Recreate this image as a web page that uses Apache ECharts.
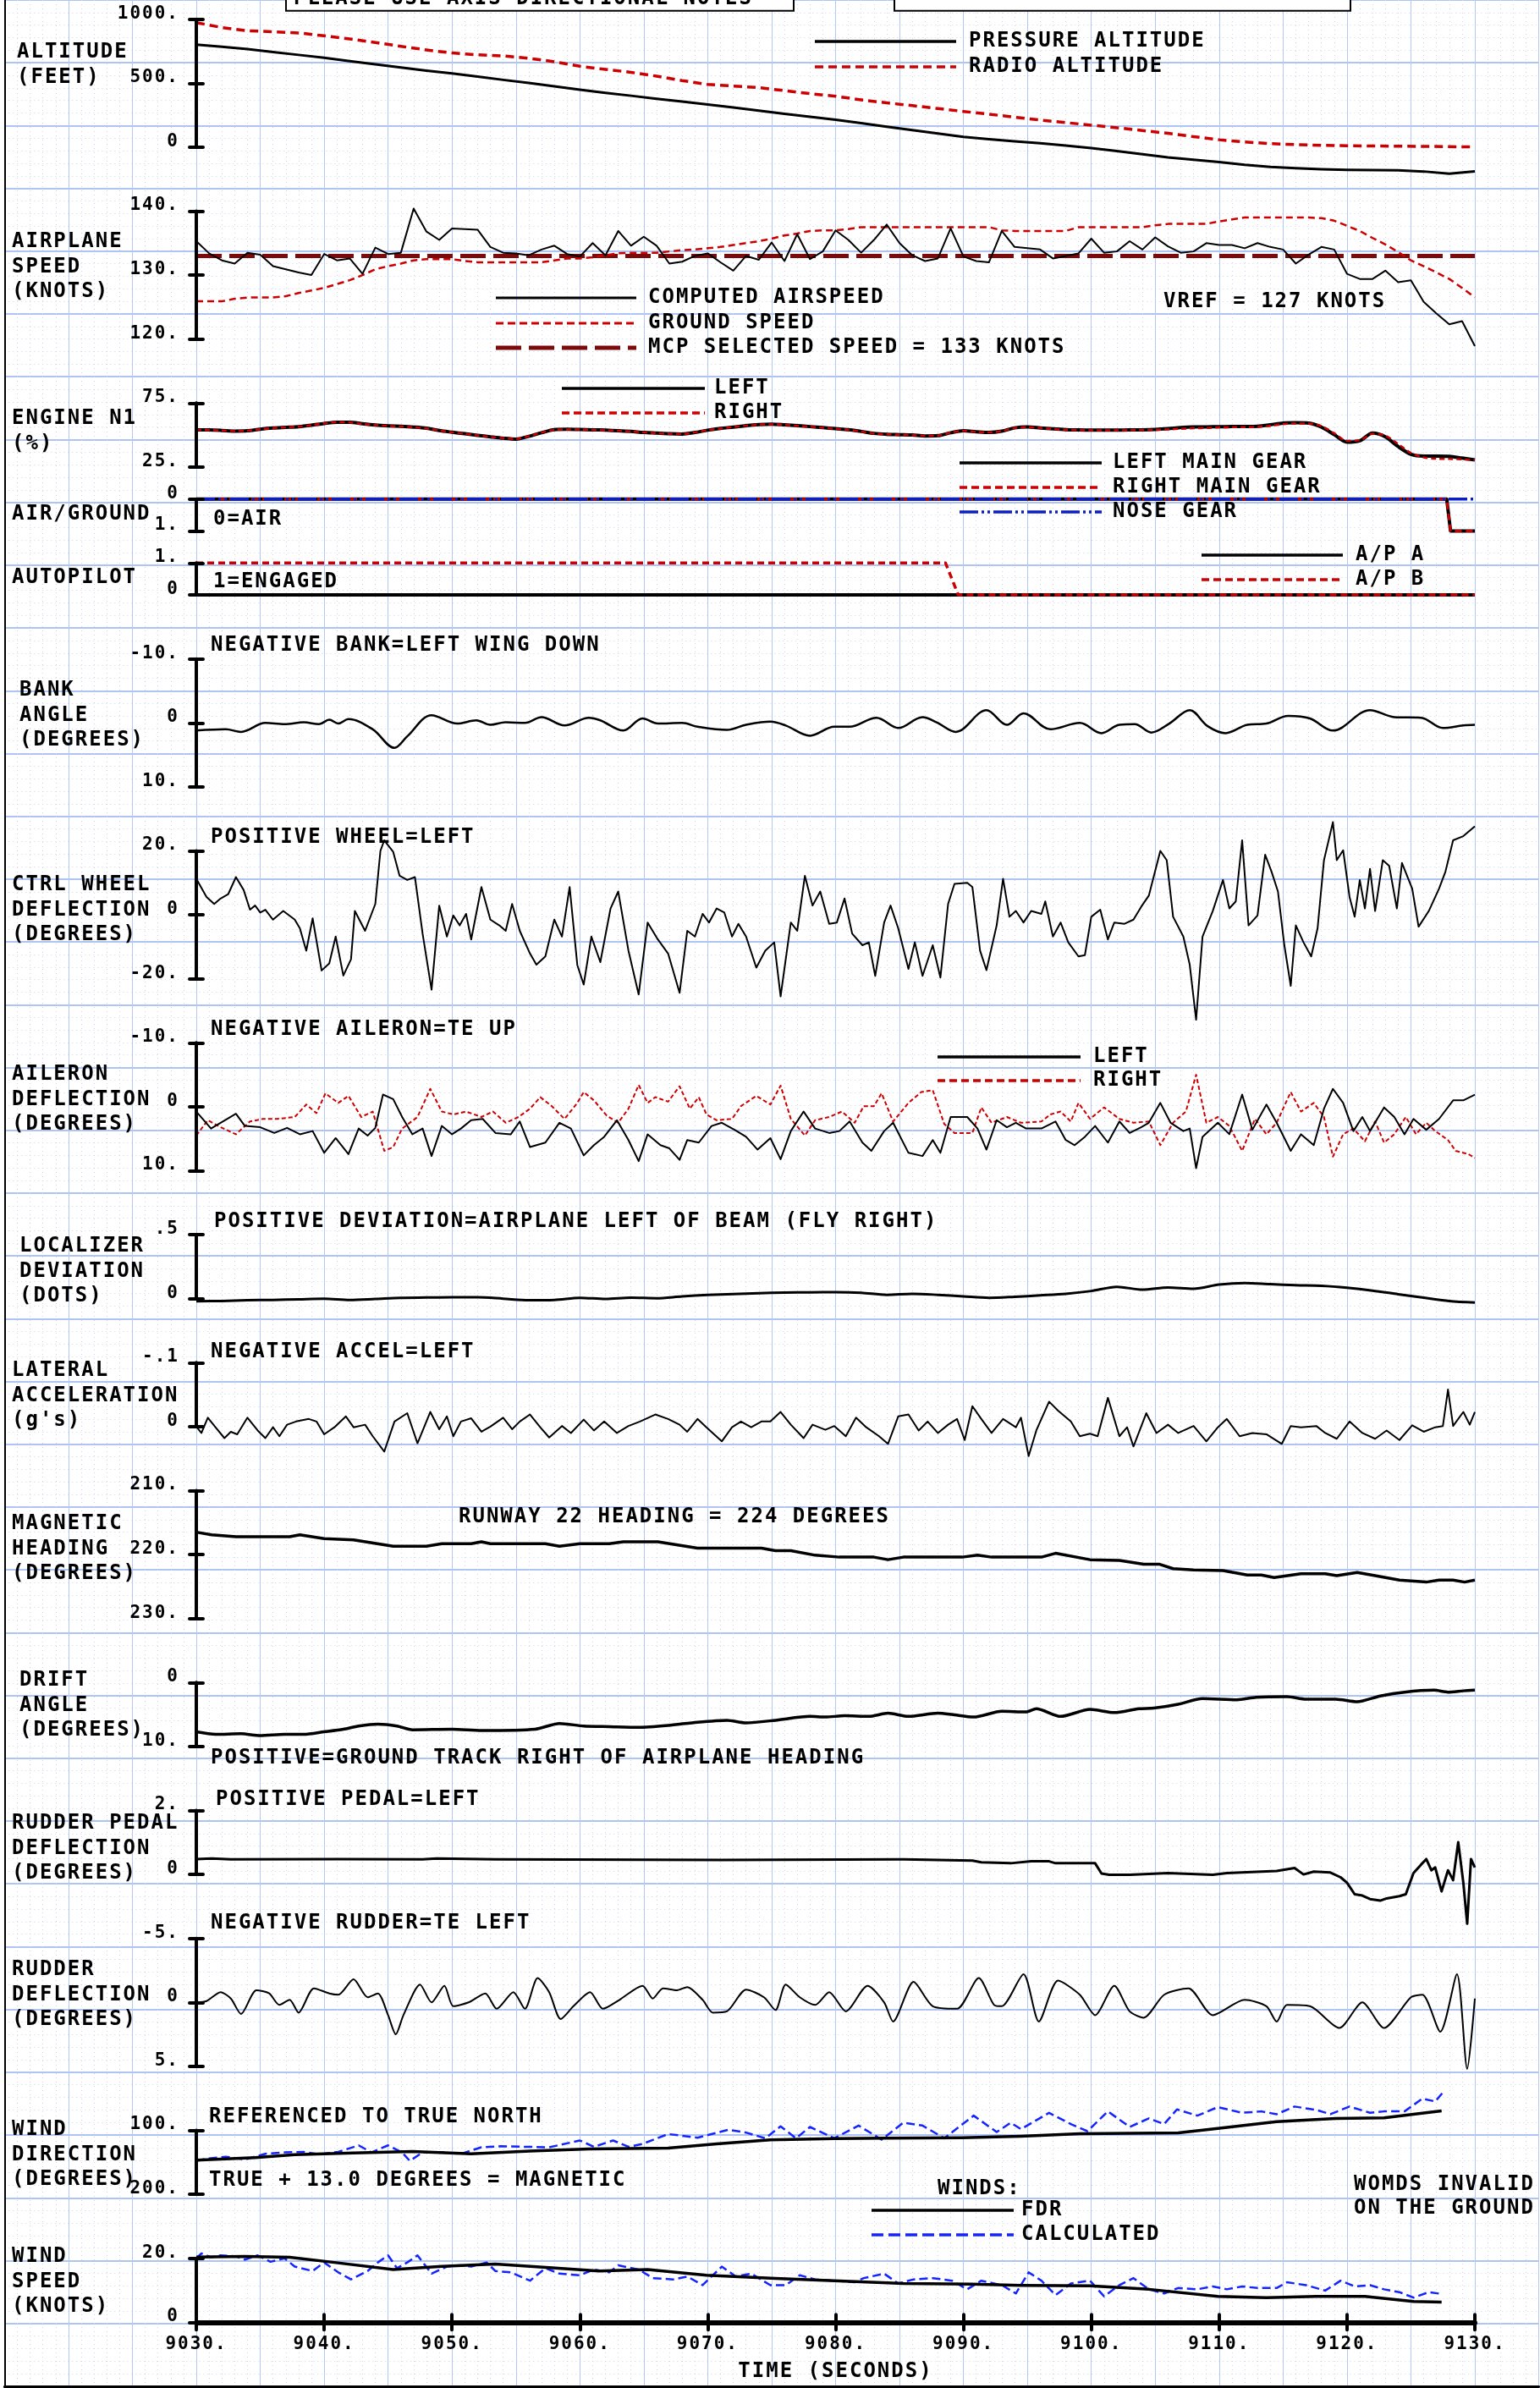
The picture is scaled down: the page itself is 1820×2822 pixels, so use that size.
<!DOCTYPE html>
<html>
<head>
<meta charset="utf-8">
<title>Flight data - approach and touchdown</title>
<script src="https://cdn.jsdelivr.net/npm/echarts@6/dist/echarts.min.js"></script>
<style>
  html, body { margin: 0; padding: 0; background: #fff; }
  #chart { width: 1820px; height: 2822px; }
</style>
</head>
<body>
<div id="chart"></div>
<script>
// ---------------------------------------------------------------
// Time base (seconds)
// ---------------------------------------------------------------
const T_START = 9030, T_END = 9130;
const seq = (t0, dt, n) => Array.from({ length: n }, (_, i) => t0 + i * dt);
const T1 = seq(T_START, 1, 101);   // 1-second samples
const T2 = seq(T_START, 2, 51);    // 2-second samples

// ---------------------------------------------------------------
// Recorded parameters
// ---------------------------------------------------------------
// Altitude (feet), every 2 s
const pressureAlt = [802,785,766,744,721,698,672,648,622,598,577,552,526,502,476,449,425,402,378,356,334,310,285,260,237,214,188,160,134,107,81,62,45,30,12,-7,-30,-55,-80,-98,-117,-138,-154,-165,-172,-178,-180,-181,-190,-207,-189];
const radioAlt = [973,935,910,902,893,870,846,818,788,760,736,722,713,695,668,632,608,585,555,520,490,478,465,442,418,398,370,346,325,302,279,258,234,212,192,172,152,130,108,82,58,40,28,20,14,11,9,8,6,4,2];

// Airplane speed (knots), every 1 s
const computedAirspeed = [
  135.3,133.4,132.3,131.8,133.5,133.2,131.4,130.9,130.4,130.0,
  133.3,132.3,132.6,130.2,134.3,133.3,133.5,140.4,136.8,135.5,
  137.3,137.2,137.1,134.4,133.5,133.4,133.1,134.0,134.6,133.3,
  132.9,135.0,133.1,136.9,134.6,136.0,134.6,131.8,132.1,133.0,
  133.4,132.0,130.7,133.0,132.4,135.1,132.2,136.4,132.5,133.7,
  137.0,135.5,133.5,135.5,137.9,135.0,133.1,132.2,132.6,137.3,
  132.9,132.2,132.0,136.9,134.4,134.2,134.0,132.6,133.0,133.4,
  135.7,133.5,133.7,135.3,134.0,135.9,134.5,133.5,133.7,135.0,
  134.7,134.7,134.2,135.0,134.4,134.0,131.8,133.2,134.4,134.0,
  130.2,129.4,129.4,130.7,128.9,129.2,125.8,124.0,122.3,122.8,
  118.9];
const groundSpeed = [
  125.9,125.9,125.9,126.3,126.5,126.5,126.5,126.7,127.2,127.6,
  128.0,128.6,129.2,130.0,130.9,131.4,131.8,132.3,132.5,132.5,
  132.5,132.2,132.0,132.0,132.0,132.0,132.0,132.0,132.3,132.6,
  132.6,132.8,133.1,133.4,133.5,133.5,133.5,133.7,133.9,134.0,
  134.2,134.4,134.7,135.0,135.3,135.7,136.2,136.5,136.9,137.0,
  137.0,137.2,137.5,137.5,137.5,137.5,137.5,137.5,137.5,137.5,
  137.5,137.5,137.5,137.0,136.9,136.9,136.9,136.9,136.9,137.5,
  137.5,137.5,137.5,137.5,137.5,137.8,138.0,138.0,138.0,138.0,
  138.4,138.7,139.0,139.0,139.0,139.0,139.0,139.0,138.9,138.5,
  137.7,136.9,135.8,134.8,133.6,132.3,131.4,130.4,129.4,128.0,
  126.5];
const mcpSpeedT = [T_START, T_END];
const mcpSpeed = [133, 133];

// Engine N1 (%), every 1 s
const n1Left = [
  54.1,54.0,53.6,53.1,53.3,54.6,55.5,56.0,56.5,57.6,
  59.0,60.0,60.0,58.8,57.8,57.2,56.8,56.2,55.3,53.5,
  52.2,51.0,49.8,48.6,47.5,46.8,49.0,51.8,54.2,54.5,
  54.3,54.1,53.8,53.4,52.8,52.0,51.5,51.0,50.8,52.0,
  53.8,55.2,56.2,57.4,58.2,58.5,58.0,57.3,56.6,55.8,
  55.0,54.2,52.8,51.3,50.6,50.3,50.0,49.3,49.5,51.8,
  53.4,52.6,52.0,53.0,55.6,56.3,55.6,54.8,54.2,54.0,
  53.9,53.9,53.9,54.0,54.1,54.4,55.0,55.8,56.3,56.4,
  56.5,56.6,56.7,56.9,58.0,59.4,59.6,59.3,56.2,50.3,
  44.4,45.5,51.5,48.6,41.0,35.0,33.6,33.6,33.4,32.0,
  30.5];
const n1Right = [
  54.0,53.9,53.5,53.1,53.4,54.5,55.4,56.0,56.6,57.7,
  59.1,60.1,59.9,58.7,57.8,57.1,56.7,56.1,55.2,53.6,
  52.1,51.0,49.7,48.5,47.6,46.9,49.1,51.9,54.1,54.4,
  54.3,54.0,53.7,53.3,52.8,52.1,51.4,51.0,50.9,52.1,
  53.9,55.1,56.3,57.3,58.1,58.4,58.0,57.2,56.5,55.7,
  54.9,54.1,52.7,51.2,50.5,50.2,49.9,49.4,49.6,51.9,
  53.3,52.5,52.1,53.1,55.5,56.2,55.5,54.7,54.1,53.9,
  53.7,53.7,53.7,53.8,53.9,54.1,54.4,54.9,55.3,55.5,
  56.0,56.1,56.2,56.4,57.2,58.5,59.0,59.0,57.0,51.5,
  45.5,46.0,51.0,49.5,43.0,36.0,32.5,31.5,31.3,31.0,
  30.5];

// Air/ground switches (0 = air, 1 = ground)
const gearT = [T_START, 9127.8, 9128.1, T_END];
const leftMainGear = [0, 0, 1, 1];
const rightMainGear = [0, 0, 1, 1];
const noseGearT = [T_START, T_END];
const noseGear = [0, 0];

// Autopilot engagement (1 = engaged)
const apT = [T_START, 9088.6, 9089.6, T_END];
const apA = [0, 0, 0, 0];
const apB = [1, 1, 0, 0];

// Irregularly sampled parameters: seconds after T_START, value
const bankSec = [0,2.3,3.5,5.4,6.9,8.4,9.6,10.4,11.1,11.9,13.8,15.5,16.5,18.4,20.4,21.9,23.0,24.2,25.7,27.0,28.8,30.7,31.6,33.4,34.9,36.1,38.0,39.2,41.5,43.0,44.9,46.1,48.0,49.9,51.1,53.2,54.9,56.8,57.9,59.4,61.8,63.4,64.7,66.8,69.1,70.8,72.2,73.4,74.7,76.1,77.7,79.1,80.5,82.2,83.7,85.4,87.1,88.9,91.8,93.7,95.8,97.5,99.1,100];
const bankAngle = [1.2,1.0,1.4,0.0,0.2,-0.1,0.2,-0.5,0.1,-0.6,1.0,3.9,2.1,-1.2,0.1,-0.4,0.3,-0.1,0.0,-0.9,0.4,-0.8,-0.4,1.2,-0.7,0.1,0.0,0.6,1.1,0.3,-0.2,0.4,2.0,0.6,0.6,-0.8,0.8,-0.9,-0.1,1.4,-2.0,0.3,-1.5,1.0,0.0,1.6,0.3,0.2,1.5,0.1,-2.0,0.5,1.6,0.3,0.1,-1.1,-0.7,1.2,-2.0,-0.9,-0.8,0.8,0.4,0.3];

const wheelSec = [
  0,0.8,1.4,1.9,2.5,3.1,3.7,4.2,4.6,5.0,
  5.4,6.0,6.8,7.7,8.1,8.6,9.1,9.8,10.4,10.9,
  11.5,12.1,12.4,13.2,14.0,14.4,14.7,15.4,15.9,16.5,
  17.1,17.7,18.4,19.0,19.6,20.1,20.6,21.1,21.5,22.3,
  23.0,23.7,24.2,24.7,25.3,26.1,26.6,27.3,28.0,28.6,
  29.2,29.8,30.3,30.9,31.6,32.4,33.0,33.8,34.6,35.3,
  36.1,36.9,37.8,38.4,39.0,39.6,40.1,40.7,41.3,41.9,
  42.4,43.0,43.8,44.5,45.2,45.7,46.5,47.0,47.6,48.2,
  48.8,49.5,50.1,50.7,51.3,52.1,52.6,53.1,53.8,54.3,
  54.9,55.7,56.2,56.8,57.6,58.2,58.8,59.3,60.3,60.7,
  61.3,61.8,62.6,63.1,63.6,64.1,64.7,65.3,66.1,66.4,
  67.0,67.6,68.2,69.0,69.5,70.0,70.7,71.3,71.8,72.6,
  73.3,73.9,74.5,75.4,75.9,76.4,77.2,77.7,78.2,78.7,
  79.5,80.3,80.8,81.3,81.8,82.3,83.0,83.6,84.1,84.6,
  85.1,85.6,86.0,86.6,87.2,87.7,88.2,88.9,89.2,89.7,
  90.2,90.6,91.0,91.4,91.8,92.2,92.8,93.3,93.9,94.3,
  95.1,95.6,96.4,97.2,97.7,98.3,99.1,100];
const ctrlWheel = [
  11.3,5.6,3.4,5.1,6.5,11.8,7.8,1.6,2.9,0.7,
  1.6,-1.5,1.2,-1.5,-4.2,-11.2,-1.1,-17.4,-15.2,-6.8,
  -19.0,-13.9,1.2,-5.0,3.4,20.0,23.3,19.7,12.2,10.9,
  11.8,-5.9,-23.4,2.9,-6.8,-0.2,-3.3,0.3,-7.7,8.7,
  -1.5,-3.3,-5.0,3.4,-5.0,-12.1,-15.6,-13.0,-1.5,-6.8,
  8.7,-15.7,-21.8,-6.8,-14.8,2.0,7.3,-11.2,-24.9,-2.4,
  -7.7,-12.1,-24.4,-5.0,-6.8,0.3,-2.4,2.0,0.7,-6.8,
  -2.8,-6.8,-16.5,-11.2,-8.6,-25.5,-2.4,-5.0,12.2,2.9,
  7.3,-2.8,-2.4,5.1,-5.9,-9.5,-8.6,-19.1,-2.4,2.9,
  -4.2,-16.9,-8.6,-19.1,-9.5,-19.6,3.4,9.7,10.0,8.7,
  -11.2,-17.3,-3.3,11.3,-0.6,1.2,-2.4,1.2,0.3,4.2,
  -6.8,-2.4,-8.6,-13.0,-12.6,-0.6,1.6,-7.7,-2.4,-2.8,
  -1.5,2.5,6.0,20.0,17.1,-0.6,-6.8,-15.6,-32.8,-6.8,
  1.2,10.9,2.0,4.2,23.3,-3.3,-0.2,18.8,13.5,7.3,
  -9.5,-22.2,-3.3,-8.6,-13.0,-4.2,17.1,29.0,17.1,20.2,
  5.6,-0.6,10.9,2.0,14.4,1.2,17.1,15.3,2.0,16.2,
  8.2,-3.7,1.2,8.2,13.5,23.3,24.6,27.7];

const aileronLeftSec = [0,1.15,3.1,3.8,5.0,6.1,7.1,8.1,9.1,10.0,10.9,11.9,12.7,13.4,14.0,14.6,15.4,16.1,16.9,17.7,18.4,19.2,20.0,20.7,21.5,22.4,23.4,24.6,25.3,26.1,27.3,28.4,29.3,30.3,31.1,31.9,32.9,33.8,34.6,35.3,36.3,37.0,37.8,38.4,39.3,40.3,41.1,42.1,43.0,43.9,44.9,45.7,46.5,47.5,48.4,49.5,50.3,51.1,52.1,52.8,53.8,54.5,55.7,56.8,57.6,58.2,59.0,60.3,61.1,61.8,62.6,63.4,64.1,64.9,66.1,67.2,68.0,68.7,69.5,70.3,71.3,72.2,73.0,73.9,74.5,75.4,76.2,77.2,77.7,78.2,78.7,79.9,80.8,81.8,82.6,83.7,84.5,85.6,86.4,87.4,88.2,88.9,89.7,90.5,91.2,91.8,92.9,93.7,94.5,95.2,96.2,97.2,98.3,99.1,100];
const aileronLeft = [0.75,3.4,1.1,3.0,3.2,4.1,3.3,4.3,3.8,7.2,4.9,7.4,3.4,4.5,3.3,-1.9,-1.2,1.6,4.3,3.4,7.7,3.0,4.3,3.4,2.1,1.9,4.1,4.3,2.3,6.3,5.6,2.5,3.4,7.6,6.0,4.7,2.1,5.2,8.5,4.3,6.0,6.5,8.3,5.2,5.6,3.0,2.5,3.6,4.7,6.7,4.9,8.2,3.8,0.75,3.4,4.1,3.8,2.3,5.6,6.9,3.8,2.5,7.2,7.7,5.2,7.2,1.6,1.6,3.4,6.7,2.1,3.2,2.5,3.4,3.4,2.3,5.2,6.0,4.7,3.0,5.6,2.3,4.1,3.2,2.5,-0.6,2.5,3.8,3.4,9.6,4.7,2.5,4.3,-1.9,3.6,-0.35,2.5,6.9,4.3,6.0,0.3,-2.8,-0.6,3.8,1.6,3.8,0.1,1.6,4.3,1.9,3.6,1.9,-1.0,-1.0,-1.9];
const aileronRightSec = [0,0.9,1.9,3.1,4.2,5.2,6.3,7.7,8.6,9.4,10.1,11.1,11.9,12.9,13.8,14.7,15.4,16.1,17.3,18.3,19.2,20.1,21.1,22.3,23.2,24.2,25.2,26.1,26.9,27.8,28.8,29.8,30.3,31.1,32.1,33.0,33.8,34.6,35.3,35.9,36.9,37.8,38.6,39.3,39.9,40.7,41.9,42.6,43.8,44.9,45.7,46.5,47.6,48.4,49.5,50.5,51.5,52.2,53.0,53.6,54.5,55.7,56.7,57.6,58.5,59.3,60.7,61.4,62.2,63.4,64.5,66.1,66.8,67.6,68.4,69.0,69.9,71.0,72.2,73.3,74.5,75.4,76.4,77.4,78.2,79.0,79.9,80.8,81.8,82.8,83.7,84.5,85.6,86.4,87.4,88.2,88.9,89.7,90.5,91.4,92.2,92.9,93.7,94.6,95.4,96.2,96.9,97.9,98.5,99.5,100];
const aileronRight = [4.5,2.1,3.2,4.3,2.3,1.9,1.9,1.6,-0.35,1.0,-2.1,-0.6,-1.7,1.6,0.75,6.9,6.3,3.4,1.6,-2.8,0.75,1.2,0.75,1.6,0.75,2.5,1.6,0.3,-1.5,-0.1,1.9,-0.6,-2.3,-1.0,1.4,2.5,0.3,-3.4,-0.6,-1.5,-0.8,-3.2,0.3,-1.5,1.2,2.1,1.9,-0.1,-1.7,-0.35,-3.3,1.9,4.5,2.1,1.6,0.75,2.5,-0.1,-0.1,-2.1,2.3,-0.6,-2.3,-2.6,2.7,4.1,4.1,0.1,2.5,1.6,2.5,2.3,1.2,0.75,2.3,-0.6,1.9,0.1,1.9,2.5,2.3,6.0,2.5,0.75,-5.0,2.5,1.6,3.0,6.9,1.9,4.3,2.5,-2.3,0.75,-0.6,1.6,7.8,4.3,3.4,5.4,2.3,5.6,4.3,1.6,4.3,2.5,3.8,5.2,6.9,7.4,8.0];

// Localizer deviation (dots), every 2 s
const localizer = [-0.02,-0.018,-0.012,-0.01,-0.005,0.0,-0.01,-0.002,0.007,0.009,0.011,0.011,0.0,-0.012,-0.01,0.007,-0.002,0.008,0.003,0.018,0.029,0.036,0.043,0.047,0.05,0.051,0.046,0.03,0.038,0.03,0.018,0.007,0.015,0.026,0.038,0.06,0.093,0.07,0.088,0.078,0.11,0.122,0.113,0.105,0.1,0.085,0.063,0.035,0.008,-0.018,-0.03];

const latAccelSec = [
  0,0.4,0.9,1.5,2.2,2.7,3.2,4.0,4.8,5.4,
  6.0,6.5,7.1,7.8,8.8,9.4,10.0,10.8,11.7,12.3,
  13.2,13.8,14.7,15.5,16.5,17.3,18.3,19.0,19.6,20.1,
  20.7,21.5,22.3,23.0,24.0,24.7,25.3,26.1,26.9,27.6,
  28.6,29.3,30.3,31.1,31.9,32.9,33.8,34.7,35.9,36.9,
  37.8,38.4,39.2,39.9,41.1,41.9,42.6,43.4,44.2,44.9,
  45.7,46.5,47.5,48.2,49.2,49.9,50.8,51.6,52.4,53.4,
  54.1,54.9,55.7,56.5,57.2,58.0,58.8,59.5,60.1,60.7,
  61.4,62.2,63.1,64.1,64.5,65.1,65.7,66.7,67.4,68.4,
  69.1,69.9,70.5,71.3,72.2,72.8,73.3,74.3,75.1,76.0,
  76.8,78.0,79.0,79.9,80.6,81.6,82.6,83.7,84.9,85.6,
  86.4,87.6,88.3,89.2,90.2,91.2,92.2,93.1,94.1,95.1,
  96.0,96.9,97.5,97.9,98.3,99.1,99.6,100];
const latAccel = [
  0,0.010,-0.014,0.001,0.018,0.008,0.012,-0.014,0.006,0.018,
  0.001,0.015,-0.003,-0.008,-0.012,-0.008,0.012,0.001,-0.016,0.001,
  -0.003,0.015,0.039,-0.008,-0.021,0.026,-0.023,0.004,-0.016,0.015,
  -0.008,-0.013,0.008,0.0,-0.014,0.004,-0.008,-0.019,0.001,0.017,
  -0.001,0.010,-0.011,0.006,-0.008,0.010,-0.001,-0.008,-0.019,-0.012,
  -0.003,0.008,-0.012,0.001,0.023,0.001,-0.008,0.001,-0.008,-0.008,
  -0.023,-0.003,0.018,-0.003,0.005,-0.001,0.015,-0.014,0.001,0.015,
  0.027,-0.016,-0.019,0.006,-0.008,0.010,-0.003,-0.012,0.021,-0.032,
  -0.012,0.010,-0.012,0.001,-0.014,0.046,0.006,-0.039,-0.025,-0.008,
  0.015,0.011,0.015,-0.045,0.015,0.001,0.031,-0.021,0.010,-0.003,
  0.010,-0.001,0.023,0.001,-0.012,0.015,0.010,0.012,0.027,-0.001,
  0.001,-0.001,0.010,0.019,-0.008,0.010,0.019,0.006,0.021,-0.002,
  0.008,0.001,-0.001,-0.058,-0.001,-0.023,-0.003,-0.023];

const headingSec = [0,1.2,3.1,7.3,8.1,10.0,12.3,15.4,18.0,19.2,21.5,22.3,23.0,27.3,28.4,30.0,32.3,33.4,36.1,39.2,44.2,45.3,46.5,48.4,50.3,53.0,54.1,55.3,59.9,61.1,62.2,66.1,67.2,69.9,72.2,74.1,75.3,76.4,78.0,80.3,82.2,83.3,84.3,86.4,88.3,89.2,90.8,92.2,94.1,96.2,97.2,98.3,99.2,100];
const magHeading = [216.5,216.9,217.2,217.2,216.9,217.5,217.7,218.7,218.7,218.3,218.3,218.0,218.3,218.3,218.7,218.3,218.3,218.0,218.0,219.0,219.0,219.4,219.4,220.1,220.4,220.4,220.8,220.4,220.4,220.1,220.4,220.4,219.8,220.8,220.9,221.5,221.5,222.2,222.4,222.5,223.2,223.2,223.6,223.0,223.0,223.3,222.8,223.3,224.0,224.3,224.0,224.0,224.3,224.0];

const driftSec = [0,1.5,3.5,5.0,6.9,8.4,10.0,11.5,12.7,14.2,15.7,16.9,20.0,22.3,26.5,28.4,30.3,32.3,34.6,36.9,39.2,41.5,43.0,45.3,48.0,49.2,50.7,52.6,54.1,55.7,58.0,59.1,60.8,63.0,64.9,65.7,67.6,69.9,71.8,73.7,74.9,76.8,78.7,81.4,82.9,85.3,86.8,89.1,90.8,92.6,94.5,96.8,97.9,99.1,100];
const driftAngle = [7.7,8.1,8.0,8.3,8.1,8.1,7.7,7.3,6.8,6.5,6.8,7.4,7.3,7.5,7.3,6.4,6.8,6.9,7.0,6.7,6.2,5.9,6.3,5.9,5.3,5.4,5.2,5.3,4.8,5.3,4.8,5.0,5.4,4.5,4.6,4.1,5.3,4.2,4.7,4.1,4.0,3.4,2.5,2.7,2.3,2.2,2.6,2.6,3.0,2.1,1.5,1.2,1.5,1.3,1.2];

const pedalSec = [0,1.2,2.7,11.1,17.7,18.8,23.4,41.1,55.3,60.7,61.4,63.7,65.3,66.7,67.2,70.3,70.8,71.4,73.0,76.0,79.5,80.6,84.5,85.9,86.6,87.4,88.7,89.5,90.0,90.6,91.2,91.8,92.6,93.1,94.1,94.6,95.2,95.8,96.2,96.6,96.9,97.4,97.9,98.3,98.7,99.1,99.4,99.7,100];
const rudderPedal = [0.48,0.50,0.47,0.48,0.47,0.50,0.47,0.45,0.47,0.43,0.38,0.35,0.41,0.41,0.35,0.35,0.03,-0.01,-0.01,0.04,-0.01,0.04,0.11,0.20,0.0,0.09,0.06,-0.09,-0.26,-0.62,-0.66,-0.77,-0.82,-0.75,-0.68,-0.62,0.04,0.31,0.48,0.13,0.22,-0.53,0.13,-0.18,1.01,-0.26,-1.54,0.48,0.22];

const rudderSec = [
  0.0,0.8,1.9,2.7,3.5,4.7,5.7,6.5,7.3,8.0,
  9.2,10.4,11.1,12.3,13.4,14.2,15.0,15.6,16.2,17.5,
  18.4,19.4,20.1,21.3,22.6,23.5,24.8,25.7,26.7,27.6,
  28.5,29.5,30.8,31.8,33.1,34.9,35.7,36.5,37.6,38.4,
  39.6,40.4,41.5,43.0,44.4,45.3,46.1,47.2,48.4,49.5,
  50.8,52.5,53.8,54.5,56.1,57.6,59.5,61.2,62.4,63.0,
  64.7,65.9,67.4,69.1,70.3,71.8,73.0,74.1,75.7,77.6,
  79.5,82.0,83.7,84.5,85.3,87.1,89.4,91.2,92.9,95.0,
  95.9,97.3,98.6,99.4,100];
const rudder = [
  0.0,-0.1,-0.8,-0.3,0.9,-0.95,-0.7,0.2,-0.2,0.8,
  -1.1,-0.7,-0.6,-1.8,-0.4,-0.7,1.0,2.5,1.0,-1.4,
  0.0,-1.3,0.3,0.0,-0.7,0.5,-0.8,0.5,-1.9,-0.8,
  1.3,0.3,-0.8,0.5,-0.2,-1.3,-0.3,-1.1,-0.95,-1.2,
  -0.2,0.8,0.7,-1.0,-0.4,0.6,-1.4,-0.4,0.2,-0.8,
  0.7,-1.3,0.0,1.5,-1.6,0.3,0.5,-1.9,0.2,0.3,
  -2.2,1.5,-1.7,-0.6,1.0,-1.3,0.7,1.2,-0.6,-1.1,
  1.0,-0.2,0.3,1.5,0.2,0.3,2.0,0.0,2.0,-0.4,
  -0.6,2.3,-2.2,5.2,-0.3];

// Winds (FDR and calculated)
const windDirFdrSec = [0,4.6,7.7,12.3,16.9,21.5,26.1,30.7,36.9,40.7,44.9,49.9,53.8,59.9,64.5,69.1,76.8,79.9,84.5,89.1,92.9,95.2,97.4];
const windDirFdr = [146.5,142.5,138,135.4,133.2,136.7,132.3,129.2,127.9,121.2,115,112.8,112.4,111.5,109.3,105.3,104,96.9,86.3,81.4,80.5,74.8,69.5];
const windDirCalcSec = [
  0,0.8,2.3,3.8,5.4,6.9,8.4,9.6,11.1,12.7,
  13.7,15.0,16.1,16.7,17.7,19.2,20.7,22.3,23.8,25.7,
  27.6,30.0,31.1,32.6,33.8,34.9,36.9,39.2,41.6,43.0,
  44.5,45.7,46.9,48.0,49.9,51.8,53.6,55.3,56.8,58.5,
  60.8,62.6,63.7,64.5,66.7,68.4,69.7,71.3,73.0,74.5,
  75.7,76.7,78.3,79.9,81.8,83.3,84.5,85.9,87.6,88.7,
  90.2,91.8,92.9,94.5,95.9,96.9,97.5];
const windDirCalc = [
  147.8,144.2,141.2,145.6,136.7,134.5,133.6,137.6,133.6,123.5,
  134.5,123.5,134.5,147.8,134.5,134.5,136.7,126.5,124.8,125.7,
  126.5,115.9,125.7,115.9,125.7,121.2,105.8,111.5,99.1,103.5,
  112.4,93.8,112.4,94.7,112.4,92.5,114.6,88.1,92.5,112.4,
  77.0,102.7,88.1,98.2,72.6,90.3,101.3,70.4,94.7,81.4,
  90.3,67.3,77.0,63.7,72.6,70.4,74.8,62.8,68.1,74.8,
  62.8,72.6,70.4,70.4,50.4,54.9,40.7];
const windSpdFdrSec = [0,3.8,7.3,10.8,15.4,19.2,23.4,27.6,31.5,35.3,39.9,45.3,49.9,55.3,60.7,64.5,69.9,74.5,79.9,83.7,87.6,91.4,95.2,97.4];
const windSpdFdr = [20.4,20.6,20.3,18.7,16.5,17.5,18.2,17.1,16.0,16.5,14.7,13.7,13.0,12.1,11.9,11.5,11.4,10.3,8.1,7.7,8.1,8.1,6.5,6.3];
const windSpdCalcSec = [
  0,0.4,1.15,1.9,3.1,3.8,4.8,5.8,6.9,7.7,
  9.1,10.0,11.1,12.1,13.4,14.2,15.0,15.7,16.5,17.3,
  18.4,19.6,20.7,21.5,22.7,23.4,24.6,26.1,27.3,28.4,
  30.0,31.1,32.3,33.0,34.6,35.7,37.3,38.4,39.6,41.1,
  42.2,43.4,44.9,46.1,47.2,48.4,49.9,51.5,52.2,53.8,
  54.9,56.1,57.6,59.1,60.3,61.4,63.0,64.1,65.1,66.1,
  67.2,68.4,69.9,71.0,72.2,73.3,74.5,75.7,76.8,78.3,
  79.5,80.6,81.8,83.0,84.5,85.3,86.8,88.3,89.5,90.6,
  91.8,92.9,94.1,95.2,96.4,97.5];
const windSpdCalc = [
  20.0,21.5,20.3,20.9,20.6,19.6,20.9,18.9,20.0,17.4,
  16.0,18.7,15.6,13.4,16.0,18.7,20.9,16.9,18.7,20.9,
  15.2,17.4,17.8,17.4,18.7,16.0,15.6,13.0,16.9,15.2,
  14.7,16.5,15.6,17.8,16.5,13.8,13.4,14.3,11.6,17.4,
  14.3,15.2,11.6,11.6,14.7,13.4,13.0,12.5,13.8,15.2,
  12.1,13.4,13.8,13.0,10.3,13.0,11.6,9.0,15.6,13.0,
  8.5,12.1,13.0,8.1,11.6,13.8,10.3,9.0,10.7,10.3,
  11.2,10.3,11.2,10.7,10.7,12.5,11.6,9.9,13.0,11.2,
  11.6,10.3,9.4,7.7,9.4,8.8];

// Axis tick labels: 0 stays "0", whole numbers get a trailing point, fractions drop the leading zero
const tickText = v => v === 0 ? '0'
  : (Number.isInteger(v) ? v + '.' : String(v).replace(/^(-?)0\./, '$1.'));

// ---------------------------------------------------------------
// Page layout: square graph-paper rows of ROW px, plot from PLOT_L to PLOT_R
// ---------------------------------------------------------------
const PLOT_L = 232, PLOT_R = 1743, ROW0 = 22.7, ROW = 75.6;
const rowY = k => ROW0 + k * ROW;
const FONT = '"DejaVu Sans Mono", "Liberation Mono", monospace';
const RED = '#cc0000', MAROON = '#7d0a0a', NOSE_BLUE = '#0b1fc4', BLUE = '#1424ff';

// Strip charts, top to bottom (rows on the graph paper, y range, tick values)
const panels = [
  { k0: 0,   k1: 2,  min: 0,    max: 1000, inverse: false, ticks: [0, 500, 1000] },   // altitude
  { k0: 3,   k1: 5,  min: 120,  max: 140,  inverse: false, ticks: [120, 130, 140] },  // airplane speed
  { k0: 6,   k1: 7,  min: 25,   max: 75,   inverse: false, ticks: [25, 75] },         // engine N1
  { k0: 7.5, k1: 8,  min: 0,    max: 1,    inverse: true,  ticks: [0, 1] },           // air/ground
  { k0: 8.5, k1: 9,  min: 0,    max: 1,    inverse: false, ticks: [0, 1] },           // autopilot
  { k0: 10,  k1: 12, min: -10,  max: 10,   inverse: true,  ticks: [-10, 0, 10] },     // bank angle
  { k0: 13,  k1: 15, min: -20,  max: 20,   inverse: false, ticks: [-20, 0, 20] },     // control wheel
  { k0: 16,  k1: 18, min: -10,  max: 10,   inverse: true,  ticks: [-10, 0, 10] },     // aileron
  { k0: 19,  k1: 20, min: 0,    max: 0.5,  inverse: false, ticks: [0, 0.5] },         // localizer
  { k0: 21,  k1: 22, min: -0.1, max: 0,    inverse: true,  ticks: [-0.1, 0] },        // lateral accel
  { k0: 23,  k1: 25, min: 210,  max: 230,  inverse: true,  ticks: [210, 220, 230] },  // magnetic heading
  { k0: 26,  k1: 27, min: 0,    max: 10,   inverse: true,  ticks: [0, 10] },          // drift angle
  { k0: 28,  k1: 29, min: 0,    max: 2,    inverse: false, ticks: [0, 2] },           // rudder pedal
  { k0: 30,  k1: 32, min: -5,   max: 5,    inverse: true,  ticks: [-5, 0, 5] },       // rudder
  { k0: 33,  k1: 34, min: 100,  max: 200,  inverse: true,  ticks: [100, 200] },       // wind direction
  { k0: 35,  k1: 36, min: 0,    max: 20,   inverse: false, ticks: [0, 20] }           // wind speed
];
const P = { alt: 0, spd: 1, n1: 2, gnd: 3, ap: 4, bank: 5, wheel: 6, ail: 7, loc: 8, lat: 9, hdg: 10, drift: 11, pedal: 12, rud: 13, wdir: 14, wspd: 15 };

// ---------------------------------------------------------------
// Grids and axes
// ---------------------------------------------------------------
const grids = [{ left: 5.35, top: rowY(-1), width: 1813.2, height: 38 * ROW }];
panels.forEach(p => grids.push({ left: PLOT_L, top: rowY(p.k0), width: PLOT_R - PLOT_L, height: (p.k1 - p.k0) * ROW }));

const minorDots = { show: true, lineStyle: { color: '#cdd5e6', width: 1, type: [1, 4] } };
const xAxes = [{
  gridIndex: 0, type: 'value', min: 9015, max: 9135, interval: 5, position: 'bottom', z: 0,
  axisLine: { show: true, onZero: false, lineStyle: { color: '#000', width: 3 } },
  axisTick: { show: false }, axisLabel: { show: false },
  splitLine: { show: true, lineStyle: { color: '#b3c8f5', width: 1 } },
  minorTick: { show: false, splitNumber: 5 }, minorSplitLine: minorDots
}];
panels.forEach((p, i) => xAxes.push({ gridIndex: i + 1, type: 'value', min: T_START, max: T_END, show: false }));

const labelFont = { color: '#000', fontFamily: FONT, fontWeight: 'bold' };
const blackTick = { color: '#000', width: 4, cap: 'round' };
// time axis under the last chart
xAxes[16] = {
  gridIndex: 16, type: 'value', min: T_START, max: T_END, interval: 10, position: 'bottom', z: 6,
  axisLine: { show: true, onZero: false, lineStyle: { color: '#000', width: 6 } },
  axisTick: { show: true, length: 9, lineStyle: blackTick },
  axisLabel: Object.assign({ show: true, margin: 16, fontSize: 21, formatter: v => v + '.' }, labelFont),
  splitLine: { show: false },
  name: 'TIME (SECONDS)', nameLocation: 'middle', nameGap: 46,
  nameTextStyle: Object.assign({ fontSize: 24 }, labelFont)
};
xAxes.push({
  gridIndex: 16, type: 'value', min: T_START, max: T_END, interval: 10, position: 'bottom', z: 6,
  axisLine: { show: false, onZero: false }, axisLabel: { show: false }, splitLine: { show: false },
  axisTick: { show: true, inside: true, length: 9, lineStyle: blackTick }
});

const yAxes = [{
  gridIndex: 0, type: 'value', min: -1, max: 37, interval: 1, inverse: true, position: 'left', z: 0,
  axisLine: { show: true, onZero: false, lineStyle: { color: '#000', width: 2 } },
  axisTick: { show: false }, axisLabel: { show: false },
  splitLine: { show: true, lineStyle: { color: '#adc4f5', width: 2 } },
  minorTick: { show: false, splitNumber: 5 }, minorSplitLine: minorDots
}];
panels.forEach((p, i) => {
  const base = { gridIndex: i + 1, type: 'value', min: p.min, max: p.max, inverse: p.inverse, position: 'left', z: 6, splitLine: { show: false } };
  yAxes.push(Object.assign({}, base, {
    axisLine: { show: true, onZero: false, lineStyle: { color: '#000', width: 4, cap: 'round' } },
    axisTick: { show: true, customValues: p.ticks, length: 8, lineStyle: blackTick },
    axisLabel: Object.assign({ show: true, customValues: p.ticks, formatter: tickText, margin: 20, fontSize: 21, verticalAlign: 'bottom', lineHeight: 13 }, labelFont)
  }));
  yAxes.push(Object.assign({}, base, {
    axisLine: { show: false, onZero: false }, axisLabel: { show: false },
    axisTick: { show: true, inside: true, customValues: p.ticks, length: 8, lineStyle: blackTick }
  }));
});

// ---------------------------------------------------------------
// Series
// ---------------------------------------------------------------
const pairs = (ts, vs) => ts.map((t, i) => [t, vs[i]]);
const afterStart = (secs, vs) => secs.map((s, i) => [+(T_START + s).toFixed(2), vs[i]]);
const series = [];
const addLine = (panel, name, data, lineStyle, extra) => series.push(Object.assign({
  type: 'line', name, data, xAxisIndex: panel + 1, yAxisIndex: 1 + 2 * panel,
  symbol: 'none', showSymbol: false, clip: false, silent: true, z: 4,
  lineStyle: Object.assign({ join: 'round' }, lineStyle), emphasis: { disabled: true }
}, extra || {}));

addLine(P.alt, 'PRESSURE ALTITUDE', pairs(T2, pressureAlt), { color: '#000', width: 3 });
addLine(P.alt, 'RADIO ALTITUDE', pairs(T2, radioAlt), { color: RED, width: 3.5, type: [10, 6] });

addLine(P.spd, 'MCP SELECTED SPEED', pairs(mcpSpeedT, mcpSpeed), { color: MAROON, width: 5, type: [30, 9] });
addLine(P.spd, 'GROUND SPEED', pairs(T1, groundSpeed), { color: RED, width: 2.5, type: [8, 5] });
addLine(P.spd, 'COMPUTED AIRSPEED', pairs(T1, computedAirspeed), { color: '#000', width: 2 });

addLine(P.n1, 'LEFT N1', pairs(T1, n1Left), { color: '#000', width: 4 }, { smooth: 0.3 });
addLine(P.n1, 'RIGHT N1', pairs(T1, n1Right), { color: RED, width: 2.5, type: [6, 4] }, { smooth: 0.3 });

addLine(P.gnd, 'LEFT MAIN GEAR', pairs(gearT, leftMainGear), { color: '#000', width: 4 });
addLine(P.gnd, 'RIGHT MAIN GEAR', pairs(gearT, rightMainGear), { color: RED, width: 3, type: [8, 5] });
addLine(P.gnd, 'NOSE GEAR', pairs(noseGearT, noseGear), { color: NOSE_BLUE, width: 3.5, type: [22, 4, 3, 4, 3, 4] });

addLine(P.ap, 'A/P A', pairs(apT, apA), { color: '#000', width: 4 });
addLine(P.ap, 'A/P B', pairs(apT, apB), { color: RED, width: 3.5, type: [8, 5] });

addLine(P.bank, 'BANK ANGLE', afterStart(bankSec, bankAngle), { color: '#000', width: 2.5 }, { smooth: 0.35 });
addLine(P.wheel, 'CTRL WHEEL', afterStart(wheelSec, ctrlWheel), { color: '#000', width: 2 });
addLine(P.ail, 'RIGHT AILERON', afterStart(aileronRightSec, aileronRight), { color: RED, width: 2, type: [5, 3] });
addLine(P.ail, 'LEFT AILERON', afterStart(aileronLeftSec, aileronLeft), { color: '#000', width: 2 });
addLine(P.loc, 'LOCALIZER', pairs(T2, localizer), { color: '#000', width: 3 }, { smooth: 0.3 });
addLine(P.lat, 'LATERAL ACCEL', afterStart(latAccelSec, latAccel), { color: '#000', width: 2 });
addLine(P.hdg, 'MAGNETIC HEADING', afterStart(headingSec, magHeading), { color: '#000', width: 3.5 });
addLine(P.drift, 'DRIFT ANGLE', afterStart(driftSec, driftAngle), { color: '#000', width: 3.5 }, { smooth: 0.25 });
addLine(P.pedal, 'RUDDER PEDAL', afterStart(pedalSec, rudderPedal), { color: '#000', width: 3 });
addLine(P.rud, 'RUDDER', afterStart(rudderSec, rudder), { color: '#000', width: 2 }, { smooth: 0.25 });
addLine(P.wdir, 'WIND DIR CALCULATED', afterStart(windDirCalcSec, windDirCalc), { color: BLUE, width: 2.5, type: [10, 5] });
addLine(P.wdir, 'WIND DIR FDR', afterStart(windDirFdrSec, windDirFdr), { color: '#000', width: 3.5 });
addLine(P.wspd, 'WIND SPEED CALCULATED', afterStart(windSpdCalcSec, windSpdCalc), { color: BLUE, width: 2.5, type: [10, 5] });
addLine(P.wspd, 'WIND SPEED FDR', afterStart(windSpdFdrSec, windSpdFdr), { color: '#000', width: 3.5 });

// ---------------------------------------------------------------
// Titles, notes and key lines drawn on the page
// ---------------------------------------------------------------
const textEl = (x, y, text, size, valign) => ({
  type: 'text', x, y, silent: true, z: 20,
  style: { text, fill: '#000', font: `bold ${size || 24}px ${FONT}`, align: 'left', verticalAlign: valign || 'middle' }
});
const keyLine = (x1, x2, y, stroke, width, dash) => ({
  type: 'line', silent: true, z: 20, shape: { x1, y1: y, x2, y2: y },
  style: { stroke, lineWidth: width, lineDash: dash || null }
});

const chartTitles = [
  [20, 62,   ['ALTITUDE', '(FEET)']],
  [14, 286,  ['AIRPLANE', 'SPEED', '(KNOTS)']],
  [14, 495,  ['ENGINE N1', '(%)']],
  [14, 608,  ['AIR/GROUND']],
  [14, 683,  ['AUTOPILOT']],
  [23, 816,  ['BANK', 'ANGLE', '(DEGREES)']],
  [14, 1046, ['CTRL WHEEL', 'DEFLECTION', '(DEGREES)']],
  [14, 1270, ['AILERON', 'DEFLECTION', '(DEGREES)']],
  [23, 1473, ['LOCALIZER', 'DEVIATION', '(DOTS)']],
  [14, 1620, ['LATERAL', 'ACCELERATION', "(g's)"]],
  [14, 1801, ['MAGNETIC', 'HEADING', '(DEGREES)']],
  [23, 1986, ['DRIFT', 'ANGLE', '(DEGREES)']],
  [14, 2155, ['RUDDER PEDAL', 'DEFLECTION', '(DEGREES)']],
  [14, 2328, ['RUDDER', 'DEFLECTION', '(DEGREES)']],
  [14, 2517, ['WIND', 'DIRECTION', '(DEGREES)']],
  [14, 2667, ['WIND', 'SPEED', '(KNOTS)']]
];
const notes = [
  [1375, 357,  'VREF = 127 KNOTS'],
  [252, 614,   '0=AIR'],
  [252, 688,   '1=ENGAGED'],
  [249, 763,   'NEGATIVE BANK=LEFT WING DOWN'],
  [249, 990,   'POSITIVE WHEEL=LEFT'],
  [249, 1217,  'NEGATIVE AILERON=TE UP'],
  [253, 1444,  'POSITIVE DEVIATION=AIRPLANE LEFT OF BEAM (FLY RIGHT)'],
  [249, 1598,  'NEGATIVE ACCEL=LEFT'],
  [542, 1793,  'RUNWAY 22 HEADING = 224 DEGREES'],
  [249, 2078,  'POSITIVE=GROUND TRACK RIGHT OF AIRPLANE HEADING'],
  [255, 2127,  'POSITIVE PEDAL=LEFT'],
  [249, 2273,  'NEGATIVE RUDDER=TE LEFT'],
  [247, 2502,  'REFERENCED TO TRUE NORTH'],
  [247, 2577,  'TRUE + 13.0 DEGREES = MAGNETIC'],
  [1108, 2587, 'WINDS:'],
  [1600, 2582, 'WOMDS INVALID'],
  [1600, 2610, 'ON THE GROUND']
];
// key entries: line start, line end, y, colour, width, dash, text x, text
const keys = [
  [963, 1130, 49,  '#000', 3.5, null, 1145, 'PRESSURE ALTITUDE'],
  [963, 1130, 79,  RED, 3.5, [10, 6], 1145, 'RADIO ALTITUDE'],
  [586, 752, 352,  '#000', 3, null, 766, 'COMPUTED AIRSPEED'],
  [586, 752, 382,  RED, 3, [9, 5], 766, 'GROUND SPEED'],
  [586, 752, 411,  MAROON, 5, [30, 9], 766, 'MCP SELECTED SPEED = 133 KNOTS'],
  [664, 833, 459,  '#000', 3.5, null, 844, 'LEFT'],
  [664, 833, 488,  RED, 3.5, [9, 5], 844, 'RIGHT'],
  [1134, 1302, 547, '#000', 3.5, null, 1315, 'LEFT MAIN GEAR'],
  [1134, 1302, 576, RED, 3.5, [9, 5], 1315, 'RIGHT MAIN GEAR'],
  [1134, 1302, 605, NOSE_BLUE, 3.5, [22, 4, 3, 4, 3, 4], 1315, 'NOSE GEAR'],
  [1420, 1587, 656, '#000', 3.5, null, 1602, 'A/P A'],
  [1420, 1587, 685, RED, 3.5, [9, 5], 1602, 'A/P B'],
  [1108, 1277, 1249, '#000', 3.5, null, 1292, 'LEFT'],
  [1108, 1277, 1277, RED, 3.5, [9, 5], 1292, 'RIGHT'],
  [1030, 1198, 2612, '#000', 3.5, null, 1207, 'FDR'],
  [1030, 1198, 2641, BLUE, 3.5, [14, 6], 1207, 'CALCULATED']
];

const graphics = [
  { type: 'rect', silent: true, z: 18, shape: { x: 338, y: -20, width: 600, height: 32.7 }, style: { fill: '#fff', stroke: '#000', lineWidth: 2 } },
  { type: 'rect', silent: true, z: 18, shape: { x: 1057, y: -20, width: 539, height: 32.7 }, style: { fill: '#fff', stroke: '#000', lineWidth: 2 } },
  textEl(347, 11, 'PLEASE USE AXIS DIRECTIONAL NOTES', 24, 'bottom')
];
chartTitles.forEach(([x, y, lines]) => lines.forEach((t, i) => graphics.push(textEl(x, y + i * 29.5, t))));
notes.forEach(([x, y, t]) => graphics.push(textEl(x, y, t)));
keys.forEach(([x1, x2, y, c, w, d, tx, t]) => {
  graphics.push(keyLine(x1, x2, y, c, w, d));
  graphics.push(textEl(tx, y, t));
});

const option = {
  animation: false,
  backgroundColor: '#ffffff',
  grid: grids,
  xAxis: xAxes,
  yAxis: yAxes,
  series,
  graphic: { elements: graphics }
};

const chart = echarts.init(document.getElementById('chart'), null, { renderer: 'canvas', width: 1820, height: 2822 });
// The plotter lettering is widely tracked: open up the canvas letter spacing slightly.
try {
  const layer = chart.getZr().painter.getLayer(0);
  if (layer && layer.ctx) layer.ctx.letterSpacing = '2px';
} catch (e) { /* plain spacing is fine too */ }
chart.setOption(option);
</script>
</body>
</html>
